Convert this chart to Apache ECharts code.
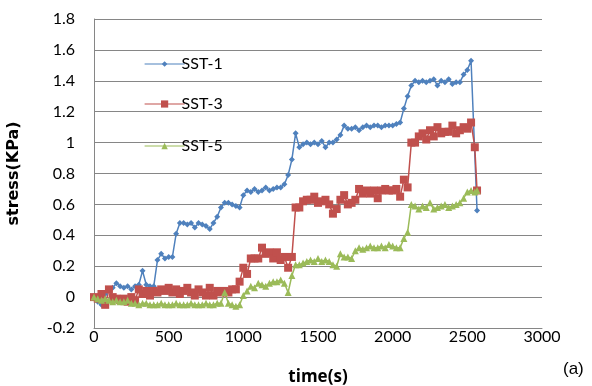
<!DOCTYPE html>
<html>
<head>
<meta charset="utf-8">
<script src="https://cdn.jsdelivr.net/npm/echarts@6/dist/echarts.min.js"></script>
<style>
  html, body { margin: 0; padding: 0; background: #fff; }
  #chart { width: 592px; height: 386px; }
</style>
</head>
<body>
<div id="chart"></div>
<script>
// Sampling times (s), shared by all three tests
const time = [
  0, 25, 50, 75, 100, 125, 150, 175, 200, 225,
  250, 275, 300, 325, 350, 375, 400, 425, 450, 475,
  500, 525, 550, 575, 600, 625, 650, 675, 700, 725,
  750, 775, 800, 825, 850, 875, 900, 925, 950, 975,
  1000, 1025, 1050, 1075, 1100, 1125, 1150, 1175, 1200, 1225,
  1250, 1275, 1300, 1325, 1350, 1375, 1400, 1425, 1450, 1475,
  1500, 1525, 1550, 1575, 1600, 1625, 1650, 1675, 1700, 1725,
  1750, 1775, 1800, 1825, 1850, 1875, 1900, 1925, 1950, 1975,
  2000, 2025, 2050, 2075, 2100, 2125, 2150, 2175, 2200, 2225,
  2250, 2275, 2300, 2325, 2350, 2375, 2400, 2425, 2450, 2475,
  2500, 2525, 2550, 2565
];

// Stress (KPa) for each test
const sst1 = [
  0.00, -0.03, -0.05, 0.02, 0.05, 0.06, 0.09, 0.07, 0.06, 0.07,
  0.05, 0.07, 0.08, 0.17, 0.08, 0.07, 0.07, 0.24, 0.28, 0.25,
  0.26, 0.26, 0.41, 0.48, 0.48, 0.47, 0.48, 0.45, 0.48, 0.47,
  0.46, 0.44, 0.48, 0.52, 0.58, 0.61, 0.61, 0.60, 0.59, 0.58,
  0.66, 0.69, 0.68, 0.70, 0.68, 0.69, 0.71, 0.69, 0.70, 0.71,
  0.71, 0.73, 0.79, 0.89, 1.06, 0.97, 0.99, 1.00, 0.99, 1.00,
  0.99, 1.01, 0.97, 1.00, 1.00, 1.02, 1.05, 1.11, 1.09, 1.09,
  1.10, 1.08, 1.10, 1.11, 1.10, 1.11, 1.11, 1.10, 1.11, 1.11,
  1.11, 1.12, 1.13, 1.22, 1.30, 1.37, 1.40, 1.39, 1.40, 1.39,
  1.40, 1.41, 1.37, 1.40, 1.39, 1.41, 1.38, 1.39, 1.39, 1.44,
  1.47, 1.53, null, 0.56
];

const sst3 = [
  0.00, -0.01, 0.02, -0.05, 0.05, 0.00, -0.01, -0.02, -0.01, -0.03,
  0.00, -0.02, 0.05, 0.02, 0.04, 0.01, 0.04, 0.03, 0.05, 0.04,
  0.06, 0.03, 0.05, 0.02, 0.04, 0.06, 0.03, 0.01, 0.05, 0.03,
  0.01, 0.06, 0.01, 0.04, 0.03, 0.04, 0.03, 0.05, 0.05, 0.10,
  0.19, 0.15, 0.25, 0.25, 0.25, 0.32, 0.28, 0.29, 0.25, 0.29,
  0.24, 0.26, 0.19, 0.26, 0.58, 0.58, 0.62, 0.63, 0.63, 0.65,
  0.61, 0.62, 0.63, 0.60, 0.54, 0.57, 0.63, 0.66, 0.60, 0.61,
  0.63, 0.70, 0.67, 0.69, 0.67, 0.69, 0.64, 0.69, 0.70, 0.69,
  0.69, 0.70, 0.65, 0.76, 0.71, 1.00, 1.00, 1.04, 1.06, 1.02,
  1.08, 1.04, 1.10, 1.06, 1.07, 1.07, 1.11, 1.06, 1.08, 1.10,
  1.09, 1.13, 0.97, 0.69
];

const sst5 = [
  0.00, -0.01, -0.02, -0.01, -0.02, -0.03, -0.02, -0.03, -0.03, -0.02,
  -0.04, -0.04, -0.05, -0.04, -0.04, -0.05, -0.05, -0.05, -0.04, -0.05,
  -0.05, -0.05, -0.04, -0.05, -0.05, -0.05, -0.04, -0.05, -0.05, -0.05,
  -0.04, -0.05, -0.05, -0.04, -0.04, 0.03, -0.04, -0.05, -0.06, -0.05,
  0.01, 0.04, 0.07, 0.06, 0.09, 0.08, 0.07, 0.09, 0.10, 0.10,
  0.11, 0.09, 0.03, 0.14, 0.21, 0.21, 0.22, 0.23, 0.24, 0.23,
  0.25, 0.23, 0.24, 0.23, 0.21, 0.20, 0.28, 0.26, 0.26, 0.25,
  0.30, 0.32, 0.31, 0.32, 0.33, 0.32, 0.32, 0.33, 0.32, 0.34,
  0.33, 0.32, 0.32, 0.38, 0.42, 0.60, 0.59, 0.57, 0.59, 0.58,
  0.61, 0.57, 0.58, 0.59, 0.60, 0.58, 0.59, 0.60, 0.61, 0.64,
  0.68, 0.69, 0.68, 0.69
];

const seriesNames = ['SST-1', 'SST-3', 'SST-5'];
const xTicks = { min: 0, max: 3000, step: 500 };
const yTicks = { min: -0.2, max: 1.8, step: 0.2 };

const colors = ['#4F81BD', '#C0504D', '#9BBB59'];
const symbols = ['diamond', 'rect', 'triangle'];
const symbolSizes = [6, 8, 7];
const legendSymbolSizes = [7, 9, 8];
const values = [sst1, sst3, sst5];

const gridColor = '#868686';
const tickFont = { fontFamily: 'Lato', fontSize: 16, color: '#000' };

const chart = echarts.init(document.getElementById('chart'), null, { renderer: 'canvas' });

const legendTops = [51, 91, 133];

chart.setOption({
  animation: false,
  backgroundColor: '#fff',
  grid: { left: 94, right: 50, top: 19, bottom: 58, containLabel: false, outerBoundsMode: 'none' },
  legend: seriesNames.map((name, i) => ({
    data: [{ name: name, itemStyle: { color: colors[i] } }],
    left: 139,
    top: legendTops[i],
    itemWidth: 40,
    itemHeight: legendSymbolSizes[i],
    itemGap: 0,
    lineStyle: { width: 1.2 },
    textStyle: { fontFamily: 'Lato', fontSize: 16, color: '#000', padding: [0, 0, 0, -8] },
    selectedMode: false
  })),
  xAxis: {
    type: 'value',
    min: xTicks.min,
    max: xTicks.max,
    interval: xTicks.step,
    name: 'time(s)',
    nameLocation: 'middle',
    nameGap: 41,
    nameTextStyle: { fontFamily: 'Open Sans', fontWeight: 'bold', fontSize: 17, color: '#000' },
    axisLine: { show: true, onZero: false, lineStyle: { color: gridColor, width: 1 } },
    axisTick: { show: false },
    splitLine: { show: false },
    axisLabel: Object.assign({ margin: 1, formatter: v => String(v) }, tickFont)
  },
  yAxis: {
    type: 'value',
    min: yTicks.min,
    max: yTicks.max,
    interval: yTicks.step,
    name: 'stress(KPa)',
    nameLocation: 'middle',
    nameGap: 72,
    nameRotate: 90,
    nameTextStyle: { fontFamily: 'DejaVu Sans', fontWeight: 'bold', fontSize: 16, color: '#000' },
    axisLine: { show: true, onZero: false, lineStyle: { color: gridColor, width: 1 } },
    axisTick: { show: false },
    splitLine: { show: true, lineStyle: { color: gridColor, width: 1 } },
    axisLabel: Object.assign({
      margin: 19,
      formatter: v => String(+v.toFixed(1))
    }, tickFont)
  },
  series: seriesNames.map((name, i) => ({
    name: name,
    type: 'line',
    data: time.map((t, k) => [t, values[i][k]]),
    connectNulls: true,
    symbol: symbols[i],
    symbolSize: symbolSizes[i],
    showAllSymbol: true,
    color: colors[i],
    itemStyle: { color: colors[i] },
    lineStyle: { color: colors[i], width: 1.5 },
    emphasis: { disabled: true }
  })),
  graphic: [{
    type: 'text',
    left: 563,
    top: 361,
    style: { text: '(a)', font: '17px "Liberation Sans"', fill: '#000' }
  }]
});
</script>
</body>
</html>
